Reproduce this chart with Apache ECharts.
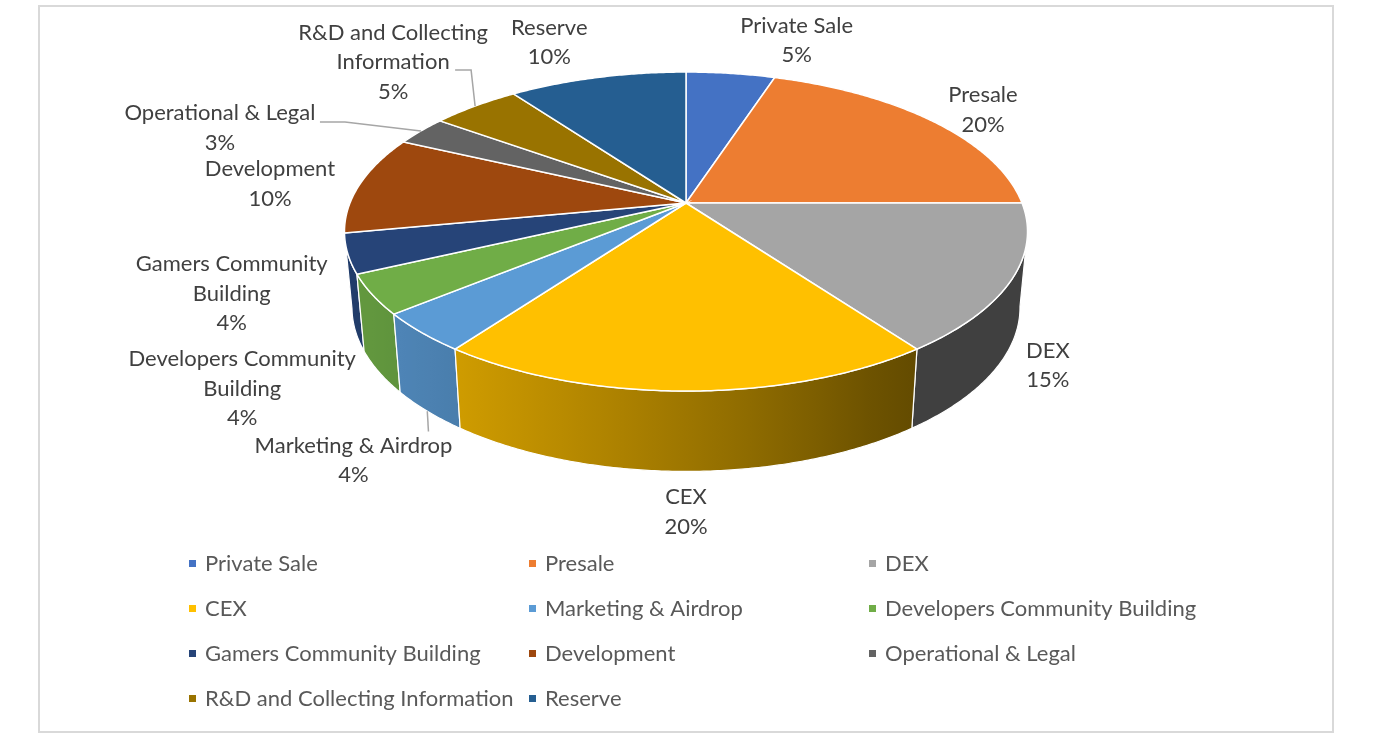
<!DOCTYPE html>
<html>
<head>
	<meta charset="UTF-8">
	<title>Token allocation</title>
	<script src="https://cdn.jsdelivr.net/npm/echarts@6.0.0/dist/echarts.min.js"></script>
	<style>
		html, body { margin: 0; padding: 0; background: #fff; }
		#chart { width: 1376px; height: 740px; }
	</style>
</head>
<body>
	<div id="chart"></div>
<script type="text/javascript">
	// data
	var categories = ['Private Sale', 'Presale', 'DEX', 'CEX', 'Marketing & Airdrop',
		'Developers Community Building', 'Gamers Community Building', 'Development',
		'Operational & Legal', 'R&D and Collecting Information', 'Reserve'];
	var shares = [5, 20, 15, 20, 4, 4, 4, 10, 3, 5, 10];
	var labelTexts = ['Private Sale', 'Presale', 'DEX', 'CEX', 'Marketing & Airdrop',
		'Developers Community\nBuilding', 'Gamers Community\nBuilding', 'Development',
		'Operational & Legal', 'R&D and Collecting\nInformation', 'Reserve'];
	var colors = ['#4472C4', '#ED7D31', '#A5A5A5', '#FFC000', '#5B9BD5', '#70AD47',
		'#264478', '#9E480E', '#636363', '#997300', '#255E91'];

	// layout of the tilted pie (pixels)
	var PIE = { cx: 686, cy: 203, rx: 336, ry: 154.4, persp: 0.179, depth: 75, shrink: 0.978 };
	// label shifts from the rim point at each slice's middle angle
	var labelShift = [[66, -33], [51, -11], [36, 86], [0, 121], [-68, 128], [-130, 94],
		[-116, 40], [-90, 0], [-201, -3], [-82, -44], [-48, -35]];
	var leaders = { 4: { from: [75, -29], elbow: 0, toBase: true },
		8: { from: [100, -6], elbow: 25, toBase: false },
		9: { from: [62, 8], elbow: 16, toBase: false } };

	var total = shares.reduce(function (s, v) { return s + v; }, 0);
	var starts = [];
	var acc = 0;
	shares.forEach(function (v) { starts.push(acc / total * 360); acc += v; });

	function rim(deg) {
		var t = deg * Math.PI / 180;
		var u = Math.sin(t), v = -Math.cos(t);
		var f = 1 / (1 - PIE.persp * v);
		return { x: PIE.cx + PIE.rx * u * f, y: PIE.cy + PIE.ry * v * f, f: f };
	}
	function base(deg) {
		var p = rim(deg);
		return { x: PIE.cx + (p.x - PIE.cx) * PIE.shrink, y: p.y + PIE.depth * Math.pow(p.f, 0.35) };
	}
	function shade(hex, deg) {
		var s = 0.48 + 0.40 * Math.cos((deg - 250) * Math.PI / 180);
		s = Math.max(0.39, Math.min(1, s));
		var n = parseInt(hex.slice(1), 16);
		var r = Math.round(((n >> 16) & 255) * s), g = Math.round(((n >> 8) & 255) * s), b = Math.round((n & 255) * s);
		return 'rgb(' + r + ',' + g + ',' + b + ')';
	}

	function renderSlice(params, api) {
		var i = params.seriesIndex;
		var a0 = starts[i];
		var a1 = a0 + api.value(0) / total * 360;
		var color = api.visual('color');
		var children = [];
		var k, d, p;

		// outer wall (front half only)
		var w0 = Math.max(a0, 100), w1 = Math.min(a1, 260);
		if (w1 > w0) {
			var wall = [];
			var n = Math.max(2, Math.ceil((w1 - w0) / 0.5));
			for (k = 0; k <= n; k++) { p = rim(w0 + (w1 - w0) * k / n); wall.push([p.x, p.y]); }
			for (k = n; k >= 0; k--) { p = base(w0 + (w1 - w0) * k / n); wall.push([p.x, p.y]); }
			var xa = rim(w0).x, xb = rim(w1).x;
			var xl = Math.min(xa, xb), xr = Math.max(xa, xb);
			var stops = [];
			for (k = 0; k <= 8; k++) {
				d = w0 + (w1 - w0) * k / 8;
				stops.push({ offset: Math.max(0, Math.min(1, (rim(d).x - xl) / (xr - xl))), color: shade(colors[i], d) });
			}
			stops.sort(function (s1, s2) { return s1.offset - s2.offset; });
			children.push({
				type: 'polygon', z2: 3 - Math.abs((w0 + w1) / 2 - 180) / 100,
				shape: { points: wall },
				style: { fill: { type: 'linear', x: xl, y: 0, x2: xr, y2: 0, colorStops: stops, global: true },
					stroke: '#ffffff', lineWidth: 1.2 }
			});
		}

		// top face
		var top = [[PIE.cx, PIE.cy]];
		var m = Math.max(2, Math.ceil((a1 - a0) / 0.5));
		for (k = 0; k <= m; k++) { p = rim(a0 + (a1 - a0) * k / m); top.push([p.x, p.y]); }
		children.push({
			type: 'polygon', z2: 5,
			shape: { points: top },
			style: { fill: color, stroke: '#ffffff', lineWidth: 1.5 }
		});

		// data label
		var mid = (a0 + a1) / 2;
		var anchor = rim(mid);
		var lx = anchor.x + labelShift[i][0], ly = anchor.y + labelShift[i][1];
		children.push({
			type: 'text', z2: 10,
			style: {
				text: labelTexts[i] + '\n' + Math.round(api.value(0) / total * 100) + '%',
				x: lx, y: ly, align: 'center', verticalAlign: 'middle',
				fontFamily: 'Lato', fontSize: 22, lineHeight: 29.5, fill: '#404040'
			}
		});
		var ld = leaders[i];
		if (ld) {
			var end = ld.toBase ? base(mid) : anchor;
			var sx = lx + ld.from[0], sy = ly + ld.from[1];
			children.push({
				type: 'polyline', z2: 9,
				shape: { points: [[sx, sy], [sx + ld.elbow, sy], [end.x, end.y]] },
				style: { stroke: '#a6a6a6', lineWidth: 1.5, fill: null }
			});
		}
		return { type: 'group', children: children };
	}

	var myChart = echarts.init(document.getElementById('chart'));

	var series = categories.map(function (name, i) {
		return {
			type: 'custom',
			name: name,
			coordinateSystem: 'none',
			silent: true,
			itemStyle: { color: colors[i] },
			renderItem: renderSlice,
			data: [[shares[i]]]
		};
	});

	option = {
		animation: false,
		backgroundColor: '#ffffff',
		graphic: [{
			type: 'rect', z: -10,
			shape: { x: 39, y: 6, width: 1294, height: 726 },
			style: { fill: '#ffffff', stroke: '#d9d9d9', lineWidth: 2 }
		}],
		legend: {
			data: categories,
			left: 189,
			top: 547,
			width: 1030,
			padding: 0,
			itemGap: 12,
			itemWidth: 7,
			itemHeight: 7,
			icon: 'rect',
			selectedMode: false,
			textStyle: {
				fontFamily: 'Lato',
				fontSize: 22,
				color: '#595959',
				width: 312,
				lineHeight: 33,
				padding: [0, 0, 0, 4]
			}
		},
		series: series
	};

	myChart.setOption(option);
</script>
</body>
</html>
